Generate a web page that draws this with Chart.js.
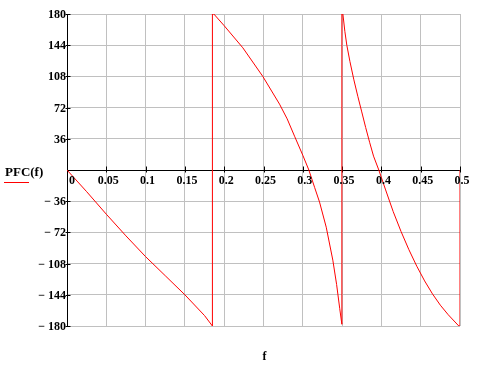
<!DOCTYPE html>
<html>
<head>
<meta charset="utf-8">
<script src="https://cdn.jsdelivr.net/npm/chart.js@4.4.1/dist/chart.umd.min.js"></script>
<style>
  body { margin: 0; background: #fff; }
  canvas { display: block; }
</style>
</head>
<body>
<canvas id="chart-1" width="480" height="365"></canvas>
<script>
// frequency samples (x) and phase PFC(f) in degrees (y)
const freq = [0, 0.025, 0.05, 0.075, 0.1, 0.125, 0.15, 0.175, 0.185,
    0.185, 0.1868, 0.1995, 0.2237, 0.2491, 0.2704, 0.2801, 0.2895, 0.3, 0.3077,
    0.315, 0.3213, 0.3298, 0.3382, 0.343, 0.347, 0.3497,
    0.3497, 0.351, 0.3535, 0.356, 0.36, 0.365, 0.37, 0.375, 0.38, 0.385, 0.39, 0.3967,
    0.405, 0.415, 0.425, 0.435, 0.445, 0.455, 0.465, 0.475, 0.485,
    0.4985, 0.5, 0.5];
const pfc = [0, -25, -51, -76, -100, -122, -144, -168, -180,
    180, 180, 167, 141, 108, 76, 59, 39, 17, 0,
    -20, -37, -66, -104, -132, -160, -178,
    180, 180, 160, 144, 125, 104, 85, 67, 49, 32, 16, 0,
    -22, -48, -71, -92, -111, -128, -143, -156, -167,
    -180, -180, 0];
const xTicks = [0, 0.05, 0.1, 0.15, 0.2, 0.25, 0.3, 0.35, 0.4, 0.45, 0.5];
const yTicks = [180, 144, 108, 72, 36, -36, -72, -108, -144, -180];

const labelFont = "bold 12px 'Liberation Serif', 'Times New Roman', serif";

const axesPlugin = {
    id: 'mathcadAxes',
    beforeDatasetsDraw(chart) {
        const ctx = chart.ctx;
        const xs = chart.scales.x, ys = chart.scales.y;
        const area = chart.chartArea;
        const x0 = Math.round(xs.getPixelForValue(0)) + 0.5;
        const y0 = Math.round(ys.getPixelForValue(0)) + 0.5;
        ctx.save();
        ctx.strokeStyle = '#000';
        ctx.lineWidth = 1;
        ctx.beginPath();
        ctx.moveTo(x0, area.top);
        ctx.lineTo(x0, area.bottom + 1);
        ctx.moveTo(area.left, y0);
        ctx.lineTo(area.right + 1, y0);
        // tick marks
        yTicks.forEach(v => {
            const py = Math.round(ys.getPixelForValue(v)) + 0.5;
            ctx.moveTo(x0 - 2, py);
            ctx.lineTo(x0 + 3, py);
        });
        xTicks.forEach(v => {
            const px = Math.round(xs.getPixelForValue(v)) + 0.5;
            ctx.moveTo(px, y0 - 4);
            ctx.lineTo(px, y0 + 2);
        });
        ctx.stroke();
        ctx.restore();
    },
    afterDraw(chart) {
        const ctx = chart.ctx;
        const xs = chart.scales.x, ys = chart.scales.y;
        const x0 = xs.getPixelForValue(0);
        const y0 = ys.getPixelForValue(0);
        ctx.save();
        ctx.fillStyle = '#000';
        ctx.font = labelFont;
        ctx.textBaseline = 'middle';

        ctx.textAlign = 'right';
        yTicks.forEach(v => {
            const txt = v < 0 ? '\u2212 ' + (-v) : String(v);
            ctx.fillText(txt, x0 - 1, ys.getPixelForValue(v) + 1);
        });

        xTicks.forEach(v => {
            const txt = String(parseFloat(v.toFixed(2)));
            if (v === 0) {
                ctx.textAlign = 'left';
                ctx.fillText(txt, x0 + 2, y0 + 11);
            } else {
                ctx.textAlign = 'center';
                ctx.fillText(txt, xs.getPixelForValue(v) + 2, y0 + 11);
            }
        });

        // axis title
        ctx.textAlign = 'center';
        ctx.fillText('f', (chart.chartArea.left + chart.chartArea.right) / 2 + 1, 357);

        // legend
        ctx.textAlign = 'left';
        ctx.font = "bold 13px 'Liberation Serif', 'Times New Roman', serif";
        ctx.fillText('PFC(f)', 5, 173);
        ctx.strokeStyle = '#ff0000';
        ctx.lineWidth = 1;
        ctx.beginPath();
        ctx.moveTo(4, 182.5);
        ctx.lineTo(29, 182.5);
        ctx.stroke();
        ctx.restore();
    }
};

const ctx = document.getElementById('chart-1').getContext('2d');

var myChart = new Chart(ctx, {
    type: 'scatter',
    data: {
        datasets: [{
            label: 'PFC(f)',
            data: freq.map((f, i) => ({ x: f, y: pfc[i] })),
            showLine: true,
            borderColor: '#ff0000',
            borderWidth: 1,
            pointRadius: 0,
            tension: 0,
            fill: false
        }]
    },
    options: {
        responsive: false,
        animation: false,
        layout: {
            padding: { left: 67, right: 20, top: 14, bottom: 39 }
        },
        plugins: {
            legend: { display: false },
            tooltip: { enabled: false }
        },
        scales: {
            x: {
                type: 'linear',
                min: 0,
                max: 0.5,
                ticks: { display: false, stepSize: 0.05 },
                grid: { color: '#c0c0c0', drawTicks: false },
                border: { display: false }
            },
            y: {
                type: 'linear',
                min: -180,
                max: 180,
                ticks: { display: false, stepSize: 36 },
                grid: { color: '#c0c0c0', drawTicks: false },
                border: { display: false }
            }
        }
    },
    plugins: [axesPlugin]
});
</script>
</body>
</html>
